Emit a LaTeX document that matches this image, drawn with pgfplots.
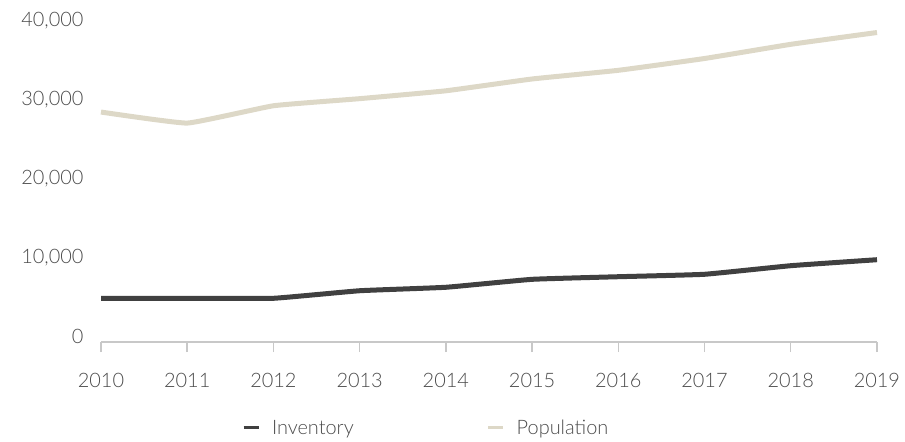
\documentclass[border=0pt]{standalone}
\usepackage{fontspec}
\setmainfont{Lato}[UprightFont={* Light}]
\usepackage{pgfplots}
\pgfplotsset{compat=1.18}
\definecolor{inv}{RGB}{64,64,64}
\definecolor{pop}{RGB}{221,216,199}
\definecolor{axgray}{RGB}{200,200,200}
\definecolor{txt}{RGB}{75,75,75}
\begin{document}
\begin{tikzpicture}
\begin{axis}[
  scale only axis,
  width=776bp, height=315bp,
  xmin=2010, xmax=2019,
  ymin=0, ymax=40000,
  separate axis lines,
  axis x line*=bottom,
  axis y line*=left,
  y axis line style={draw=none},
  x axis line style={draw=axgray, line width=1.5bp},
  xtick={2010,...,2019},
  ytick={0,10000,20000,30000,40000},
  ytick style={draw=none},
  xtick style={draw=axgray, line width=1.5bp},
  xtick align=outside,
  major tick length=10bp,
  scaled y ticks=false,
  /pgf/number format/.cd, 1000 sep={,}, assume math mode=true,
  /pgfplots/.cd,
  xticklabel={\pgfmathprintnumber[1000 sep={}]{\tick}},
  tick label style={font=\fontsize{20}{24}\selectfont, text=txt},
  xticklabel style={yshift=-18bp},
  yticklabel style={anchor=east, xshift=-14bp, yshift=6bp},
  clip=false,
  legend style={draw=none, fill=none, font=\fontsize{20}{24}\selectfont, text=txt,
    at={(0.419,-0.273)}, anchor=center, legend columns=2,
    /tikz/every even column/.append style={column sep=131bp}},
  legend image code/.code={\draw[#1, line width=3bp] (0,0) -- (15bp,0); \path (24bp,0);},
]
\addplot[inv, line width=5bp, smooth, tension=0.2] coordinates {
 (2010,5550) (2011,5550) (2012,5550) (2013,6510) (2014,6950)
 (2015,7960) (2016,8290) (2017,8600) (2018,9690) (2019,10450)};
\addlegendentry{Inventory}
\addplot[pop, line width=5bp, smooth, tension=0.2] coordinates {
 (2010,29200) (2011,27800) (2012,30000) (2013,30900) (2014,31900)
 (2015,33400) (2016,34500) (2017,36000) (2018,37800) (2019,39300)};
\addlegendentry{Population}
\end{axis}
\pgfresetboundingbox
\path[use as bounding box] ([xshift=-101bp,yshift=-99bp]current axis.south west) rectangle ([xshift=28bp,yshift=27bp]current axis.north east);
\end{tikzpicture}
\end{document}
